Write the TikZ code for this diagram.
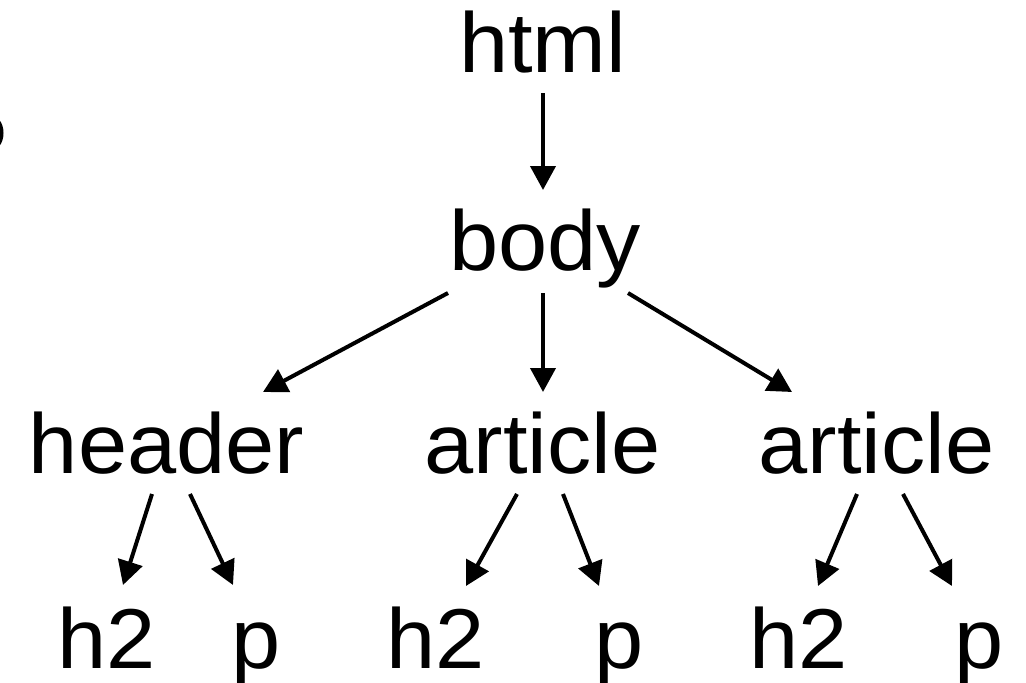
\documentclass[tikz,border=0pt]{standalone}
\usepackage{fontspec}
\setmainfont[FakeStretch=1.04]{Liberation Sans}
\usetikzlibrary{arrows.meta}
\begin{document}
\begin{tikzpicture}[x=1pt, y=-1pt,
  tag/.style={anchor=base, inner sep=0pt, font=\fontsize{85}{100}\selectfont},
  link/.style={line width=4pt, -{Triangle[length=24pt, width=25pt]}}]
  \fill[white] (0,0) rectangle (1026,683);
  \useasboundingbox (0,0) rectangle (1026,683);

  % stroke of a glyph cut off at the left border
  \begin{scope}
    \clip (0,0) rectangle (1026,683);
    \draw[line width=3.5pt] (-2,121) .. controls (3,127) and (3,139) .. (-2,145);
  \end{scope}

  % tree levels
  \node[tag] (html) at (542.5,72) {html};
  \node[tag] (body) at (545,270) {body};
  \node[tag] (header) at (166.5,473) {header};
  \node[tag] (art1) at (542.5,473) {article};
  \node[tag] (art2) at (876.5,473) {article};
  \node[tag] (h2a) at (106.5,668) {h2};
  \node[tag] (pa) at (256.5,668) {p};
  \node[tag] (h2b) at (435.5,668) {h2};
  \node[tag] (pb) at (619.5,668) {p};
  \node[tag] (h2c) at (798.5,668) {h2};
  \node[tag] (pc) at (979.5,668) {p};

  % parent -> child arrows
  \draw[link] ([shift={(0.5,21)}]html.base) -- ([shift={(-2,-80)}]body.base);
  \draw[link] ([shift={(-97,23)}]body.base) -- ([shift={(96.5,-81)}]header.base);
  \draw[link] ([shift={(-2,23)}]body.base) -- ([shift={(0.5,-81)}]art1.base);
  \draw[link] ([shift={(83,23)}]body.base) -- ([shift={(-84.5,-81)}]art2.base);

  \draw[link] ([shift={(-14.5,21)}]header.base) -- ([shift={(16.5,-83)}]h2a.base);
  \draw[link] ([shift={(23.5,21)}]header.base) -- ([shift={(-23.5,-83)}]pa.base);
  \draw[link] ([shift={(-25.5,21)}]art1.base) -- ([shift={(30.5,-82)}]h2b.base);
  \draw[link] ([shift={(20.5,21)}]art1.base) -- ([shift={(-20.5,-82)}]pb.base);
  \draw[link] ([shift={(-19.5,21)}]art2.base) -- ([shift={(19.5,-82)}]h2c.base);
  \draw[link] ([shift={(26.5,21)}]art2.base) -- ([shift={(-27.5,-82)}]pc.base);
\end{tikzpicture}
\end{document}
